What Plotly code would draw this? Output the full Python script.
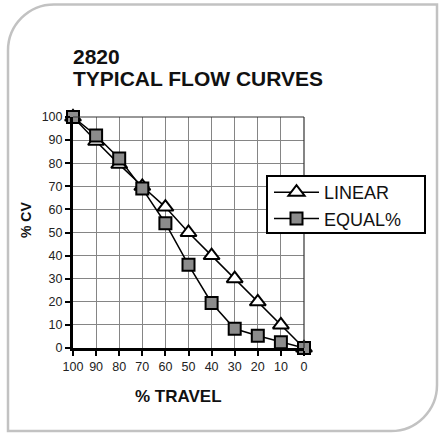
import plotly.graph_objects as go

travel = [100, 90, 80, 70, 60, 50, 40, 30, 20, 10, 0]
linear_cv = [100, 89.5, 79.5, 70, 61, 50, 40, 30, 20, 10, 0]
equal_cv = [100, 92, 82, 69, 54, 36, 19.5, 8.3, 5.3, 2.5, 0]
tick_vals = [100, 90, 80, 70, 60, 50, 40, 30, 20, 10, 0]

W, H = 442, 434
L, R, T, B = 73, 138, 117, 86
pw, ph = W - L - R, H - T - B
FONT = "Arial, Liberation Sans"

def px(x):
    return (x - L) / pw

def py(y):
    return (H - B - y) / ph

fig = go.Figure()
fig.add_trace(go.Scatter(
    x=travel, y=linear_cv, name="LINEAR", mode="lines+markers",
    line=dict(color="black", width=1.5),
    marker=dict(symbol="triangle-up", size=14, color="white",
                line=dict(color="black", width=2)),
    cliponaxis=False))
fig.add_trace(go.Scatter(
    x=travel, y=equal_cv, name="EQUAL%", mode="lines+markers",
    line=dict(color="black", width=1.5),
    marker=dict(symbol="square", size=12, color="#8c8c8c",
                line=dict(color="black", width=2)),
    cliponaxis=False))

# rounded frame (top-left and bottom-right corners rounded)
x0, y0, x1, y1, r = 8, 4.5, 437, 431, 46
k = 0.5523 * r
path = (f"M {px(x0)} {py(y0 + r)} "
        f"C {px(x0)} {py(y0 + r - k)} {px(x0 + r - k)} {py(y0)} {px(x0 + r)} {py(y0)} "
        f"L {px(x1)} {py(y0)} "
        f"L {px(x1)} {py(y1 - r)} "
        f"C {px(x1)} {py(y1 - r + k)} {px(x1 - r + k)} {py(y1)} {px(x1 - r)} {py(y1)} "
        f"L {px(x0)} {py(y1)} Z")
fig.add_shape(type="path", path=path, xref="paper", yref="paper",
              line=dict(color="#c2c2c2", width=2.5), layer="below")

# titles
fig.add_annotation(text="<b>2820</b>", xref="paper", yref="paper",
                   x=px(72), y=py(44), xanchor="left", yanchor="top", borderpad=0,
                   showarrow=False, font=dict(family=FONT, size=21, color="#111"))
fig.add_annotation(text="<b>TYPICAL FLOW CURVES</b>", xref="paper", yref="paper",
                   x=px(72), y=py(66), xanchor="left", yanchor="top", borderpad=0,
                   showarrow=False, font=dict(family=FONT, size=21, color="#111"))
fig.add_annotation(text="<b>% CV</b>", xref="paper", yref="paper",
                   x=px(26), y=py(220), xanchor="center", yanchor="middle",
                   textangle=-90, showarrow=False,
                   font=dict(family=FONT, size=14, color="#111"))
fig.add_annotation(text="<b>% TRAVEL</b>", xref="paper", yref="paper",
                   x=px(178.5), y=py(396), xanchor="center", yanchor="middle",
                   showarrow=False, font=dict(family=FONT, size=17, color="#111"))

fig.update_xaxes(range=[100, 0], tickvals=tick_vals, ticktext=[str(v) for v in tick_vals],
                 automargin=False,
                 showgrid=True, gridcolor="#858585", gridwidth=1,
                 showline=True, linecolor="black", linewidth=3, mirror=False,
                 ticks="outside", ticklen=5, tickwidth=2, tickcolor="black",
                 zeroline=False,
                 tickfont=dict(family=FONT, size=12.5, color="#222"))
fig.update_yaxes(range=[0, 100], tickvals=tick_vals,
                 automargin=False,
                 showgrid=True, gridcolor="#858585", gridwidth=1,
                 showline=True, linecolor="black", linewidth=3, mirror=False,
                 ticks="outside", ticklen=5, tickwidth=2, tickcolor="black",
                 zeroline=False,
                 tickfont=dict(family=FONT, size=12.5, color="#222"))

# top and right plot border
fig.add_shape(type="line", xref="paper", yref="paper", x0=0, x1=1, y0=1, y1=1,
              line=dict(color="#333", width=1.2))
fig.add_shape(type="line", xref="paper", yref="paper", x0=1, x1=1, y0=0, y1=1,
              line=dict(color="#333", width=1.2))

# legend box
fig.add_shape(type="rect", xref="paper", yref="paper",
              x0=px(267), x1=px(425), y0=py(233), y1=py(176),
              fillcolor="white", line=dict(color="black", width=2), layer="above")

fig.update_layout(
    width=W, height=H,
    margin=dict(l=L, r=R, t=T, b=B, autoexpand=False),
    paper_bgcolor="white", plot_bgcolor="white",
    showlegend=True,
    legend=dict(x=px(269), y=py(174), xanchor="left", yanchor="top",
                bgcolor="rgba(0,0,0,0)", borderwidth=0,
                font=dict(family=FONT, size=18, color="#111"),
                itemwidth=45, tracegroupgap=0),
)

fig.write_html("out.html", config={"displayModeBar": False},
               post_script="document.body.style.margin='0';")
